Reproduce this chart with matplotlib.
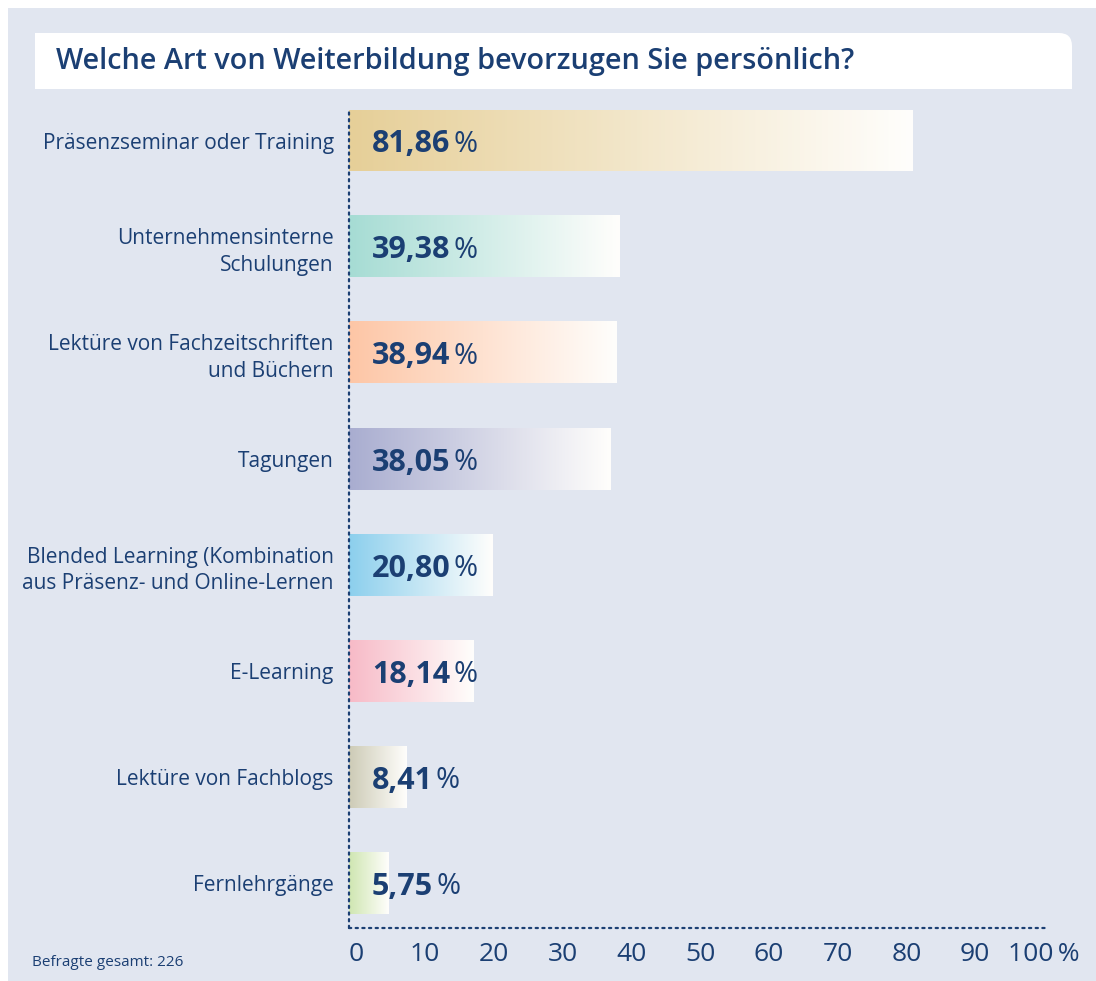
import numpy as np
import matplotlib.pyplot as plt
from matplotlib.colors import LinearSegmentedColormap
from matplotlib.patches import Rectangle, FancyBboxPatch
from matplotlib.transforms import ScaledTranslation

plt.rcParams["font.family"] = ["Open Sans", "DejaVu Sans"]

# data
categories = [
    "Präsenzseminar oder Training",
    "Unternehmensinterne\nSchulungen",
    "Lektüre von Fachzeitschriften\nund Büchern",
    "Tagungen",
    "Blended Learning (Kombination\naus Präsenz- und Online-Lernen",
    "E-Learning",
    "Lektüre von Fachblogs",
    "Fernlehrgänge",
]
values = [81.86, 39.38, 38.94, 38.05, 20.80, 18.14, 8.41, 5.75]
bar_colors = ["#e6cf98", "#a6dcd4", "#fdc6a6", "#a9add0",
              "#8ccfed", "#f7bac7", "#cdcbb6", "#cfe6b1"]
x_ticks = [0, 10, 20, 30, 40, 50, 60, 70, 80, 90, 100]
x_tick_labels = ["0", "10", "20", "30", "40", "50", "60", "70", "80", "90", "100\u2009%"]

title = "Welche Art von Weiterbildung bevorzugen Sie persönlich?"
footnote = "Befragte gesamt: 226"

navy = "#1b3f73"
panel = "#e1e6f0"

W, H = 1096, 981
fig = plt.figure(figsize=(W / 100, H / 100), dpi=100)
fig.patch.set_facecolor("white")

# background panel and title box, in pixel units
bg = fig.add_axes([0, 0, 1, 1])
bg.set_xlim(0, W)
bg.set_ylim(H, 0)
bg.axis("off")
bg.add_patch(Rectangle((8, 8), W - 8, H - 8, facecolor=panel, edgecolor="none"))
bg.add_patch(FancyBboxPatch((35, 33), 1037, 56, boxstyle="round,pad=0,rounding_size=13",
                            facecolor="white", edgecolor="none"))
bg.add_patch(Rectangle((35, 33), 100, 56, facecolor="white", edgecolor="none"))
bg.add_patch(Rectangle((35, 60), 1037, 29, facecolor="white", edgecolor="none"))
bg.text(56, 62, title, fontsize=20.8, fontweight="semibold", color=navy,
        ha="left", va="center")
bg.text(32, 963, footnote, fontsize=11, color=navy, ha="left", va="center")

# chart area
px_per_unit = 6.88
ax = fig.add_axes([349 / W, 1 - 928 / H, (1045 - 349) / W, (928 - 110) / H])
ax.set_facecolor("none")

bar_h = 0.575
for i, (v, c) in enumerate(zip(values, bar_colors)):
    cmap = LinearSegmentedColormap.from_list("g%d" % i, [c, "#fffefc"])
    grad = np.linspace(0, 1, 256).reshape(1, -1)
    ax.imshow(grad, cmap=cmap, aspect="auto", interpolation="bicubic",
              extent=(0, v, i + bar_h / 2, i - bar_h / 2), zorder=1)
    num = ax.annotate(f"{v:.2f}".replace(".", ","), xy=(0, i), xytext=(23, 0),
                      textcoords="offset pixels", fontsize=22, fontweight="bold",
                      color=navy, ha="left", va="center_baseline", zorder=3)
    ax.annotate("%", xy=(1, i), xycoords=(num, "data"), xytext=(3, 0),
                textcoords="offset pixels", fontsize=21, color=navy,
                ha="left", va="center_baseline", zorder=3)

ax.set_xlim(0, (1045 - 349) / px_per_unit)
ax.set_ylim(7.42, -0.29)

ax.set_yticks(range(len(categories)))
ax.set_yticklabels(categories, fontsize=15, color=navy, linespacing=1.35)
ax.set_xticks(x_ticks)
ax.set_xticklabels(x_tick_labels, fontsize=19, color=navy)
ax.tick_params(axis="y", length=0, pad=11)
ax.tick_params(axis="x", length=0, pad=10)
shift = ScaledTranslation(7 / 100, 0, fig.dpi_scale_trans)
for lab in ax.get_xticklabels():
    lab.set_transform(lab.get_transform() + shift)

for side in ("top", "right"):
    ax.spines[side].set_visible(False)
for side in ("left", "bottom"):
    ax.spines[side].set_color(navy)
    ax.spines[side].set_linewidth(1.6)
    ax.spines[side].set_linestyle((0, (1, 2)))
    ax.spines[side].set_capstyle("round")
    ax.spines[side].set_zorder(4)

fig.savefig("out.png", dpi=100)
